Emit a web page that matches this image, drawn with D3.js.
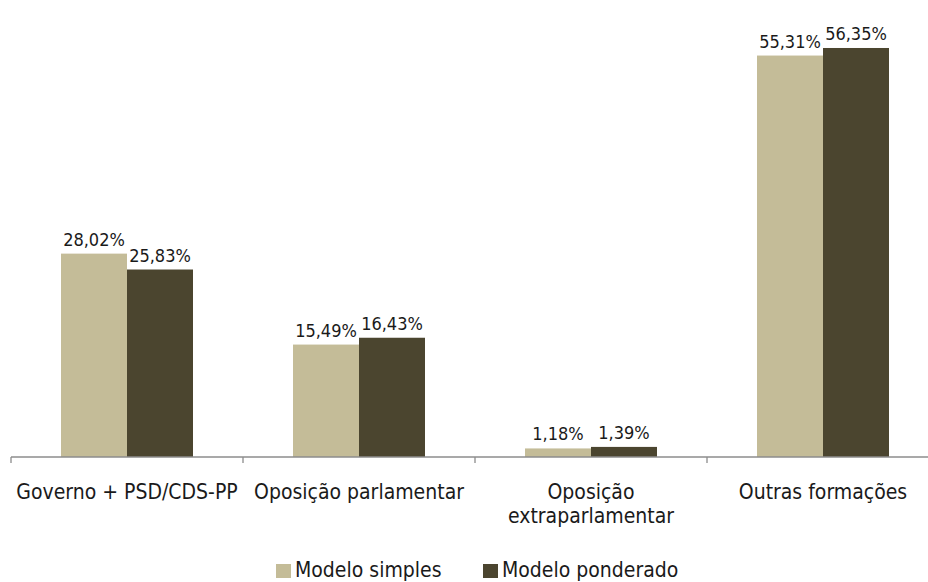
<!DOCTYPE html>
<html>
<head>
<meta charset="utf-8">
<script src="https://cdn.jsdelivr.net/npm/d3@7"></script>
<style>
  body { margin: 0; background: #fff; }
  text { font-family: "DejaVu Sans Condensed", "Liberation Sans Narrow", sans-serif; fill: #1a1a1a; }
</style>
</head>
<body>
<div id="chart"></div>
<script>
const categories = ['Governo + PSD/CDS-PP', 'Oposição parlamentar', 'Oposição\nextraparlamentar', 'Outras formações'];
const seriesNames = ['Modelo simples', 'Modelo ponderado'];
const simples = [28.02, 15.49, 1.18, 55.31];
const ponderado = [25.83, 16.43, 1.39, 56.35];
const colors = ['#c4bc98', '#4b452f'];

const width = 928, height = 582;
const baseY = 457;

const svg = d3.select('#chart').append('svg')
  .attr('width', width)
  .attr('height', height);

// x: four bands, last one runs past the right edge
const x = d3.scaleBand()
  .domain(categories)
  .range([11, 939]);

const xInner = d3.scaleBand()
  .domain(seriesNames)
  .range([0, 132]);

const y = d3.scaleLinear()
  .domain([0, 60])
  .range([baseY, 21.5]);

const rows = categories.map((c, i) => ({ cat: c, values: [simples[i], ponderado[i]] }));

const groups = svg.selectAll('.grp')
  .data(rows)
  .join('g')
    .attr('class', 'grp')
    .attr('transform', d => `translate(${x(d.cat) + x.bandwidth() / 2 - 66},0)`);

groups.selectAll('rect')
  .data(d => d.values.map((v, j) => ({ name: seriesNames[j], v, j })))
  .join('rect')
    .attr('x', d => xInner(d.name))
    .attr('y', d => y(d.v))
    .attr('width', xInner.bandwidth())
    .attr('height', d => baseY - y(d.v))
    .attr('fill', d => colors[d.j]);

groups.selectAll('.val')
  .data(d => d.values.map((v, j) => ({ name: seriesNames[j], v, j })))
  .join('text')
    .attr('class', 'val')
    .attr('x', d => xInner(d.name) + xInner.bandwidth() / 2)
    .attr('y', d => y(d.v) - 8)
    .attr('text-anchor', 'middle')
    .style('font-size', '18px')
    .text(d => d.v.toFixed(2).replace('.', ',') + '%');

// axis
const axis = svg.append('g')
  .attr('transform', `translate(0,${baseY})`);
axis.append('line')
  .attr('x1', 11).attr('x2', 939)
  .attr('stroke', '#8c8c8c').attr('stroke-width', 1.3);
axis.selectAll('.tick')
  .data(categories.map(c => x(c)).concat([x(categories[3]) + x.bandwidth()]))
  .join('line')
    .attr('class', 'tick')
    .attr('x1', d => d).attr('x2', d => d)
    .attr('y1', 0).attr('y2', 6)
    .attr('stroke', '#8c8c8c').attr('stroke-width', 1.3);

const labels = svg.selectAll('.cat')
  .data(categories)
  .join('text')
    .attr('class', 'cat')
    .attr('text-anchor', 'middle')
    .attr('y', 499)
    .style('font-size', '21px');
labels.each(function(d) {
  const t = d3.select(this);
  d.split('\n').forEach((line, i) => {
    t.append('tspan')
      .attr('x', x(d) + x.bandwidth() / 2)
      .attr('dy', i === 0 ? 0 : 24)
      .text(line);
  });
});

// legend
const legendX = [276, 483];
const legend = svg.selectAll('.leg')
  .data(seriesNames)
  .join('g')
    .attr('class', 'leg')
    .attr('transform', (d, i) => `translate(${legendX[i]},564)`);
legend.append('rect')
  .attr('width', 15).attr('height', 14)
  .attr('fill', (d, i) => colors[i]);
legend.append('text')
  .attr('x', 19).attr('y', 13)
  .style('font-size', '21px')
  .text(d => d);
</script>
</body>
</html>
